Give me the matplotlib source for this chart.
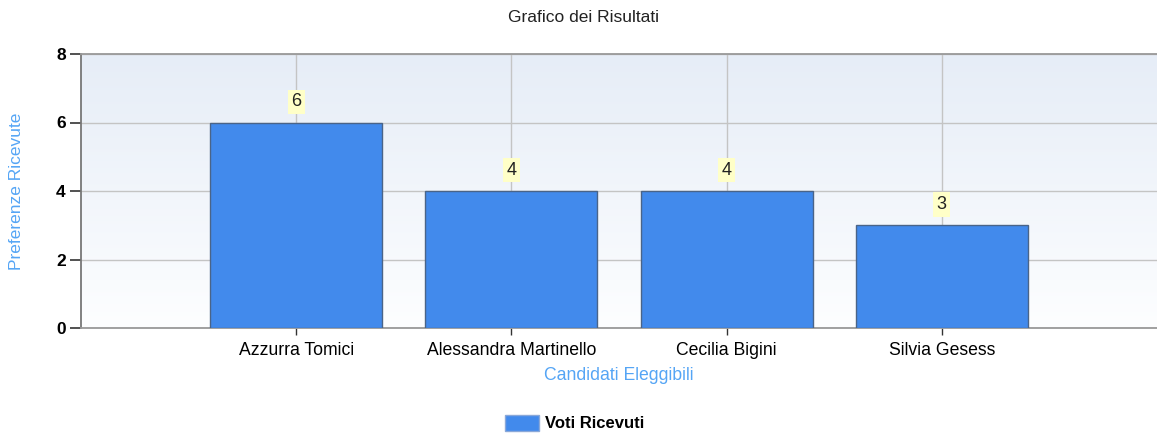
import numpy as np
import matplotlib
matplotlib.use("Agg")
import matplotlib.pyplot as plt
from matplotlib.patches import Patch

# data
candidati = ["Azzurra Tomici", "Alessandra Martinello", "Cecilia Bigini", "Silvia Gesess"]
voti = [6, 4, 4, 3]
y_ticks = [0, 2, 4, 6, 8]

BAR_COLOR = "#428AEC"
EDGE_COLOR = "#4A6488"
LABEL_COLOR = "#55A5F5"

plt.rcParams["font.family"] = ["Liberation Sans", "DejaVu Sans"]

fig = plt.figure(figsize=(11.57, 4.34), dpi=100)
W, H = 1157, 434
# axes placed in pixel terms: left 81, right 1157, top 54, bottom 328
ax = fig.add_axes([81 / W, 1 - 328 / H, (1157 - 81) / W, (328 - 54) / H])

x = np.arange(1, len(candidati) + 1)

# gradient background (light blue top -> near white bottom)
grad = np.linspace(0, 1, 256).reshape(-1, 1)
top = np.array([0.902, 0.929, 0.969])
bot = np.array([0.992, 0.996, 1.0])
img = top * (1 - grad[..., None]) + bot * grad[..., None]
img = img.reshape(256, 1, 3)
ax.imshow(img, extent=[0, 1, 0, 1], transform=ax.transAxes, aspect="auto", zorder=0)

ax.set_xlim(0, 5)
ax.set_ylim(0, 8)

ax.grid(True, color="#C4C4C4", linewidth=1.0, zorder=1)
ax.set_axisbelow(True)

bars = ax.bar(x, voti, width=0.8, color=BAR_COLOR, edgecolor=EDGE_COLOR,
              linewidth=1.0, zorder=3)

for xi, v in zip(x, voti):
    ax.annotate(str(v), (xi, v), xytext=(0, 15), textcoords="offset points",
                ha="center", va="center", fontsize=13, color="#222222",
                bbox=dict(boxstyle="square,pad=0.2", facecolor="#FFFFC8", edgecolor="none"),
                zorder=5)

ax.set_xticks(x)
ax.set_xticklabels(candidati, fontsize=12.7)
ax.set_yticks(y_ticks)
ax.set_yticklabels([str(t) for t in y_ticks], fontsize=12.5, fontweight="bold")

ax.tick_params(axis="y", length=8, width=1.2, color="#333333", pad=3)
ax.tick_params(axis="x", length=5, width=1.0, color="#333333", pad=5)

for side in ["left", "top", "bottom"]:
    ax.spines[side].set_color("#999999")
    ax.spines[side].set_linewidth(1.3)
ax.spines["left"].set_color("#777777")
ax.spines["right"].set_visible(False)

ax.set_xlabel("Candidati Eleggibili", fontsize=12.7, color=LABEL_COLOR, labelpad=6)
fig.text(17 / W, 1 - 191 / H, "Preferenze Ricevute", rotation=90, ha="center",
         va="center", fontsize=12.5, color=LABEL_COLOR)

fig.text(583 / W, 1 - 17 / H, "Grafico dei Risultati", ha="center", va="center",
         fontsize=12.5, color="#222222")

fig.legend(handles=[Patch(facecolor=BAR_COLOR, edgecolor="#8AA8D8", label="Voti Ricevuti")],
           loc="center", bbox_to_anchor=(575 / W, 1 - 423 / H), frameon=False,
           prop={"weight": "bold", "size": 12}, handlelength=2.0, handleheight=1.1,
           handletextpad=0.4)

fig.savefig("out.png", dpi=100)
